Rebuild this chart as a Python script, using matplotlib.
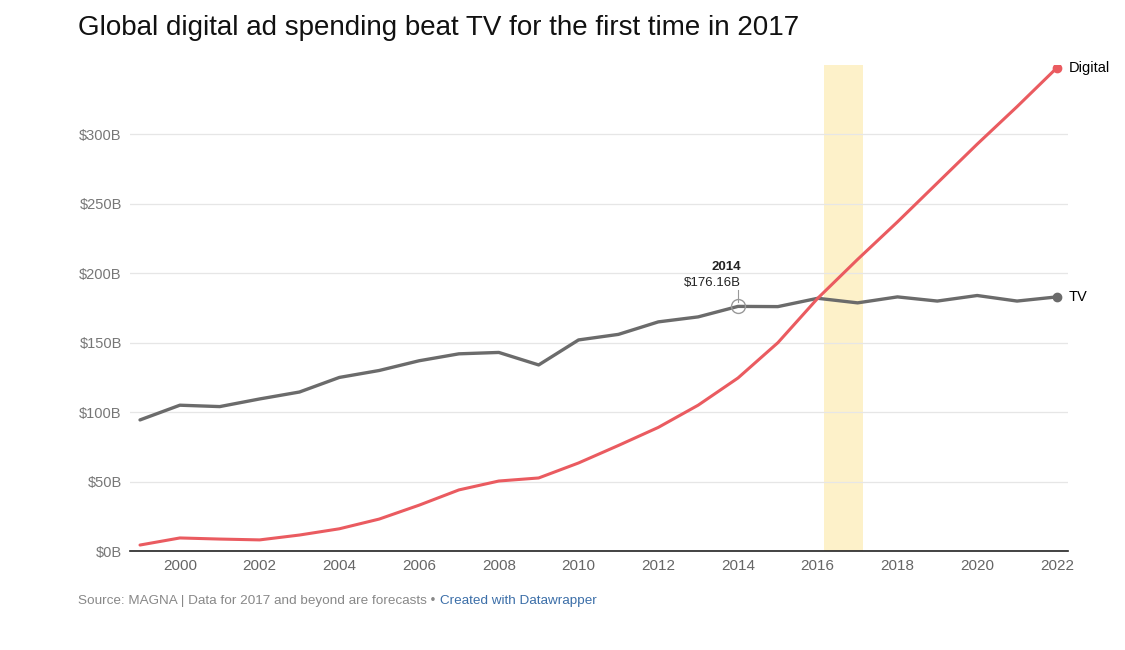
#!/usr/bin/env python3
# Global digital vs TV ad spending, 1999-2022 (MAGNA).
import matplotlib
matplotlib.use('Agg')
import matplotlib.pyplot as plt

plt.rcParams['font.family'] = ['Liberation Sans', 'DejaVu Sans']

# Data (billions USD).
years = list(range(1999, 2023))
tv = [94.4, 105, 104, 109.5, 114.5, 125, 130, 137, 142, 143, 134, 152,
      156, 165, 168.6, 176.16, 176, 182, 178.7, 183, 180, 184, 180, 183]
digital = [4.3, 9.4, 8.6, 8, 11.5, 16, 23, 33, 44, 50.4, 52.6, 63.4,
           76, 89, 105, 124.6, 150, 182, 210, 237, 265, 293, 320, 348]
yticks = [0, 50, 100, 150, 200, 250, 300]
xticks = list(range(2000, 2023, 2))
highlight = (2016.15, 2017.13)
note_year = 2014
note_value = 176.16

tv_color = '#6b6b6b'
dig_color = '#ea5b60'

fig = plt.figure(figsize=(11.25, 6.5), dpi=100)
ax = fig.add_axes([0.1156, 0.1523, 0.8338, 0.7477])

ax.axvspan(*highlight, color='#fdf1c9', zorder=0, lw=0)

ax.plot(years, tv, color=tv_color, lw=2.4, solid_joinstyle='round',
        solid_capstyle='round', zorder=3)
ax.plot(years, digital, color=dig_color, lw=2.2, solid_joinstyle='round',
        solid_capstyle='round', zorder=4)
ax.plot(years[-1], tv[-1], 'o', color=tv_color, ms=6, zorder=5)
ax.plot(years[-1], digital[-1], 'o', color=dig_color, ms=6, zorder=5)
ax.text(years[-1] + 0.3, tv[-1], 'TV', fontsize=10.5, va='center', ha='left')
ax.text(years[-1] + 0.3, digital[-1], 'Digital', fontsize=10.5, va='center', ha='left')

# Annotation at 2014.
ax.plot(note_year, note_value, 'o', mfc='none', mec='#999999', ms=10, mew=1, zorder=6)
ax.plot([note_year, note_year], [note_value + 3.5, note_value + 12], color='#999999', lw=0.8)
ax.text(note_year + 0.07, note_value + 12.5, '$%.2fB' % note_value, fontsize=9.5,
        ha='right', va='bottom', color='#222222')
ax.text(note_year + 0.07, note_value + 24, str(note_year), fontsize=9.5,
        fontweight='bold', ha='right', va='bottom', color='#222222')

ax.set_xlim(1998.75, 2022.28)
ax.set_ylim(0, 350)
ax.set_yticks(yticks)
ax.set_yticklabels(['$%dB' % v for v in yticks])
ax.set_xticks(xticks)
ax.grid(axis='y', color='#e6e6e6', lw=0.9)
ax.set_axisbelow(True)
for s in ['top', 'right', 'left']:
    ax.spines[s].set_visible(False)
ax.spines['bottom'].set_color('#222222')
ax.spines['bottom'].set_linewidth(1.2)
ax.tick_params(axis='y', length=0, pad=6, labelsize=10.5, labelcolor='#777777')
ax.tick_params(axis='x', length=0, pad=6, labelsize=11, labelcolor='#666666')

# Title and footer.
fig.text(78 / 1125, 1 - 28 / 650, 'Global digital ad spending beat TV for the first time in 2017',
         fontsize=20, va='center', ha='left', color='#111111')
src = fig.text(78 / 1125, 1 - 601 / 650, 'Source: MAGNA | Data for 2017 and beyond are forecasts \u2022 ',
               fontsize=9.7, va='center', ha='left', color='#888888')
ax.annotate('Created with Datawrapper', xy=(1, 0.5), xycoords=src, xytext=(1, 0),
            textcoords='offset points', fontsize=9.7, va='center', ha='left',
            color='#3b6ea8', annotation_clip=False)

plt.savefig('out.png', dpi=100)
